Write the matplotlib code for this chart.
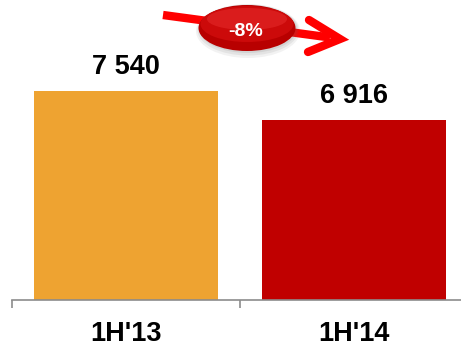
import matplotlib
matplotlib.use("Agg")
import matplotlib.pyplot as plt
from matplotlib.patches import Ellipse

# datos
periodos = ["1H'13", "1H'14"]
valores = [7540, 6916]
etiquetas = ["7 540", "6 916"]
colores = ["#EEA331", "#C00000"]
cambio = "-8%"

plt.rcParams['font.family'] = ['Liberation Sans', 'DejaVu Sans']

fig = plt.figure(figsize=(4.61, 3.46), dpi=100)
ax = fig.add_axes([12 / 461, 46 / 346, 456 / 461, 300 / 346])

x = range(len(periodos))
ax.bar(x, valores, width=0.807, color=colores)
ax.set_xlim(-0.5, 1.5)
ax.set_ylim(3040, 9500)

for i, (v, t) in enumerate(zip(valores, etiquetas)):
    ax.annotate(t, (i, v), xytext=(0, 8), textcoords="offset points",
                ha="center", va="bottom", fontsize=19.5, fontweight="bold")

# ejes
for s in ["top", "right", "left"]:
    ax.spines[s].set_visible(False)
ax.spines["bottom"].set_color("#8C8C8C")
ax.spines["bottom"].set_linewidth(1.2)
ax.set_yticks([])
ax.set_xticks(list(x))
ax.set_xticklabels(periodos, fontsize=19.5, fontweight="bold")
ax.tick_params(axis="x", which="major", length=0, pad=15)
ax.set_xticks([-0.5, 0.5, 1.5], minor=True)
ax.tick_params(axis="x", which="minor", length=6, width=1.2, color="#8C8C8C")

# flecha
fig.add_artist(plt.Line2D([163 / 461, 330 / 461], [1 - 15 / 346, 1 - 37.5 / 346],
                          transform=fig.transFigure, color="#FF0000", lw=6,
                          solid_capstyle="butt", zorder=5))
fig.add_artist(plt.Line2D([309 / 461, 340 / 461, 308 / 461],
                          [1 - 20 / 346, 1 - 39 / 346, 1 - 52 / 346],
                          transform=fig.transFigure, color="#FF0000", lw=6,
                          solid_capstyle="round", solid_joinstyle="miter", zorder=5))

# ovalo con sombra y brillo
for k, a in enumerate([0.08, 0.1, 0.12]):
    fig.add_artist(Ellipse((248 / 461, 1 - (31 - k) / 346), (104 - 3 * k) / 461, (54 - 3 * k) / 346,
                           transform=fig.transFigure, facecolor="#606060", alpha=a,
                           lw=0, zorder=6))
fig.add_artist(Ellipse((247 / 461, 1 - 28 / 346), 97 / 461, 46 / 346,
                       transform=fig.transFigure, facecolor="#B80000", lw=0, zorder=7))
fig.add_artist(Ellipse((247 / 461, 1 - 24 / 346), 93 / 461, 36 / 346,
                       transform=fig.transFigure, facecolor="#CC0A0A", lw=0, zorder=8))
fig.add_artist(Ellipse((247 / 461, 1 - 19 / 346), 80 / 461, 22 / 346,
                       transform=fig.transFigure, facecolor="#E02525", alpha=0.7, lw=0, zorder=8))
fig.text(246 / 461, 1 - 31 / 346, cambio, color="white", fontsize=14,
         fontweight="bold", ha="center", va="center", zorder=9)

fig.savefig("out.png", dpi=100)
